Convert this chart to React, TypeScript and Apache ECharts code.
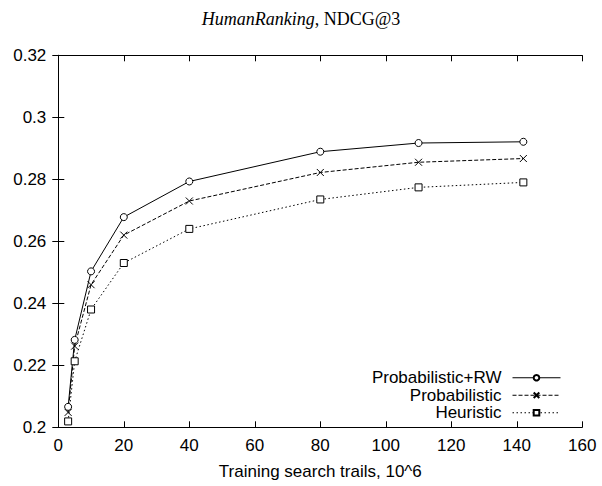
import React, { useEffect, useRef } from "react";
import * as echarts from "echarts";

const trails = [3, 5, 10, 20, 40, 80, 110, 142];
const probRW = [0.2066, 0.2282, 0.2503, 0.2678, 0.2793, 0.2889, 0.2917, 0.2921];
const prob = [0.2048, 0.2262, 0.246, 0.262, 0.273, 0.2822, 0.2855, 0.2867];
const heur = [0.2019, 0.2213, 0.238, 0.253, 0.264, 0.2735, 0.2774, 0.279];
const seriesNames = ["Probabilistic+RW", "Probabilistic", "Heuristic"];
const xTicks = { min: 0, max: 160, interval: 20 };
const yTicks = { min: 0.2, max: 0.32, interval: 0.02 };

const SANS = "Liberation Sans, Arial, sans-serif";
const SERIF = "Liberation Serif, Times New Roman, serif";

export default function App() {
  const ref = useRef<HTMLDivElement>(null);
  useEffect(() => {
    document.body.style.margin = "0";
    if (!ref.current) return;
    const chart = echarts.init(ref.current, null, { renderer: "svg" });
    const pair = (ys: number[]) => trails.map((x, i) => [x, ys[i]]);
    const axisCommon = {
      axisLine: { show: true, lineStyle: { color: "#000", width: 1 } },
      axisTick: { show: true, inside: true, length: 6, lineStyle: { color: "#000" } },
      splitLine: { show: false },
    };
    const labelStyle = { color: "#000", fontSize: 17, fontFamily: SANS };
    chart.setOption({
      animation: false,
      backgroundColor: "#fff",
      title: {
        text: "{i|HumanRanking}{n|, NDCG@3}",
        left: "center",
        top: 5,
        textStyle: {
          fontWeight: "normal",
          rich: {
            i: { fontFamily: SERIF, fontStyle: "italic", fontWeight: "normal", fontSize: 18, color: "#000" },
            n: { fontFamily: SERIF, fontWeight: "normal", fontSize: 18, color: "#000" },
          },
        },
      },
      grid: { left: 58.3, right: 19.7, top: 55.3, bottom: 58.7, containLabel: false },
      xAxis: [
        {
          type: "value",
          ...xTicks,
          ...axisCommon,
          axisLabel: { ...labelStyle, margin: 10 },
          name: "Training search trails, 10^6",
          nameLocation: "middle",
          nameGap: 36,
          nameTextStyle: { ...labelStyle },
        },
        {
          type: "value",
          position: "top",
          ...xTicks,
          ...axisCommon,
          axisLabel: { show: false },
        },
      ],
      yAxis: [
        {
          type: "value",
          ...yTicks,
          ...axisCommon,
          axisLabel: {
            ...labelStyle,
            margin: 12,
            formatter: (v: number) => String(Number(v.toFixed(2))),
          },
        },
        {
          type: "value",
          position: "right",
          ...yTicks,
          ...axisCommon,
          axisLabel: { show: false },
        },
      ],
      legend: {
        orient: "vertical",
        align: "right",
        right: 36,
        top: 364,
        itemWidth: 48,
        itemHeight: 7,
        itemGap: 0,
        data: seriesNames,
        lineStyle: { width: 1 },
        textStyle: { ...labelStyle, lineHeight: 17.5, padding: [0, 6, 0, 0] },
      },
      series: [
        {
          name: seriesNames[0],
          type: "line",
          data: pair(probRW),
          symbol: "circle",
          symbolSize: 7,
          lineStyle: { color: "#000", width: 1, type: "solid" },
          itemStyle: { color: "#fff", borderColor: "#000", borderWidth: 1 },
        },
        {
          name: seriesNames[1],
          type: "line",
          data: pair(prob),
          symbol: "path://M0 0L10 10M10 0L0 10",
          symbolSize: 7,
          lineStyle: { color: "#000", width: 1, type: [4, 2] },
          itemStyle: { color: "#000", borderColor: "#000", borderWidth: 1 },
        },
        {
          name: seriesNames[2],
          type: "line",
          data: pair(heur),
          symbol: "rect",
          symbolSize: 7,
          lineStyle: { color: "#000", width: 1, type: [1.5, 2.5] },
          itemStyle: { color: "#fff", borderColor: "#000", borderWidth: 1 },
        },
      ],
    });
    return () => chart.dispose();
  }, []);
  return <div ref={ref} style={{ width: 602, height: 486 }} />;
}
